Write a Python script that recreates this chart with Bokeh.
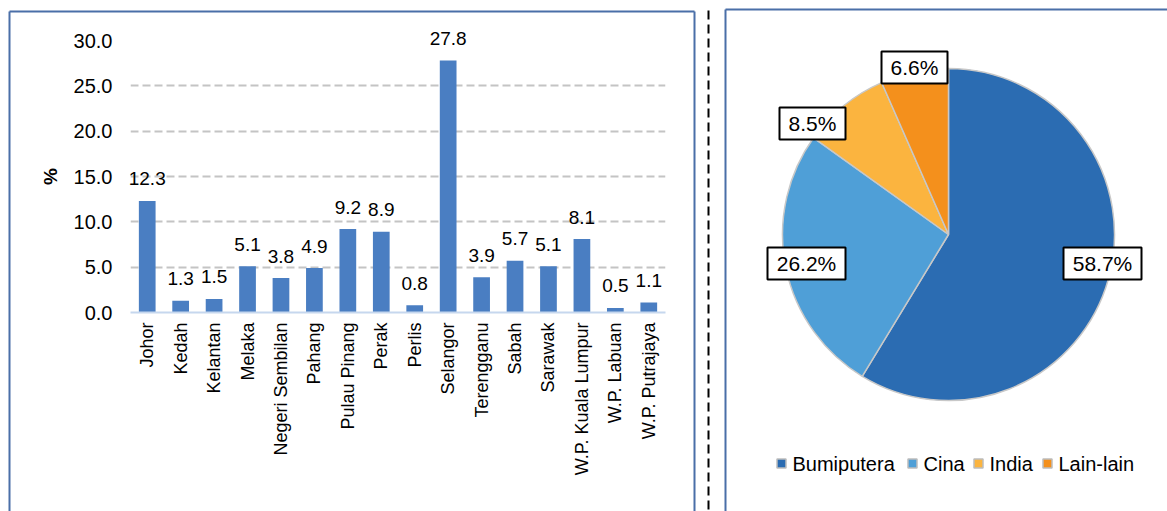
import math
from bokeh.plotting import figure
from bokeh.models import ColumnDataSource, Range1d, FixedTicker, PrintfTickFormatter
from bokeh.core.properties import value
from bokeh.embed import file_html
from bokeh.resources import INLINE

# ---------------- data ----------------
states = ["Johor", "Kedah", "Kelantan", "Melaka", "Negeri Sembilan", "Pahang",
          "Pulau Pinang", "Perak", "Perlis", "Selangor", "Terengganu", "Sabah",
          "Sarawak", "W.P. Kuala Lumpur", "W.P. Labuan", "W.P. Putrajaya"]
state_pct = [12.3, 1.3, 1.5, 5.1, 3.8, 4.9, 9.2, 8.9, 0.8, 27.8, 3.9, 5.7,
             5.1, 8.1, 0.5, 1.1]
y_ticks = [0, 5, 10, 15, 20, 25, 30]
y_axis_title = "%"

groups = ["Bumiputera", "Cina", "India", "Lain-lain"]
group_pct = [58.7, 26.2, 8.5, 6.6]

# ---------------- layout / style ----------------
W, H = 1167, 511
FONT = value("Liberation Sans")
FL, FR, FT, FB = 130, 665, 40, 312      # bar-chart frame, page pixels
BAR_COLOR = "#4a7ec2"
PANEL_COLOR = "#4a6fa8"
PIE_COLORS = ["#2b6cb2", "#4f9fd7", "#fbb43f", "#f4901c"]
PIE_CX, PIE_CY, PIE_R = 948, 234, 166
PIE_LABEL_POS = [(1102, 263), (806, 263), (812, 123), (914, 67)]
LEGEND_SQ_X = [781, 912, 978, 1047]
LEGEND_Y = 463


def py(y):
    """page y (down) -> pixel-range coordinate (up)"""
    return H - y


n = len(states)
xpos = [i + 0.5 for i in range(n)]   # category slots on the axis

p = figure(width=W, height=H, x_range=Range1d(0, n), y_range=Range1d(0, 30),
           output_backend="svg", toolbar_location=None,
           min_border_left=FL, min_border_right=W - FR,
           min_border_top=FT, min_border_bottom=H - FB)
p.extra_x_ranges = {"px": Range1d(FL, FR)}
p.extra_y_ranges = {"px": Range1d(py(FB), py(FT))}
p.outline_line_color = None
p.background_fill_color = "white"
p.border_fill_color = "white"

# bars
src = ColumnDataSource(dict(x=xpos, y=state_pct,
                            lab=["%.1f" % v for v in state_pct]))
p.vbar(x="x", top="y", width=0.5, source=src, fill_color=BAR_COLOR, line_color=None)
p.text(x="x", y="y", text="lab", source=src, y_offset=-22, level="overlay",
       text_align="center", text_baseline="alphabetic",
       text_font=FONT, text_font_size="19px", text_color="#000000")

# axes
p.xgrid.grid_line_color = None
p.ygrid.grid_line_color = "#c4c4c4"
p.ygrid.grid_line_width = 2
p.ygrid.grid_line_dash = "8 4"
p.yaxis.ticker = FixedTicker(ticks=y_ticks)
p.yaxis.formatter = PrintfTickFormatter(format="%.1f")
p.yaxis.axis_line_color = None
p.yaxis.major_tick_line_color = None
p.yaxis.minor_tick_line_color = None
p.yaxis.major_tick_out = 0
p.yaxis.major_tick_in = 0
p.yaxis.major_label_standoff = 18
p.yaxis.major_label_text_font = "Liberation Sans"
p.yaxis.major_label_text_font_size = "20px"
p.yaxis.major_label_text_color = "#000000"
p.yaxis.axis_label = y_axis_title
p.yaxis.axis_label_text_font = "Liberation Sans"
p.yaxis.axis_label_text_font_size = "19px"
p.yaxis.axis_label_text_font_style = "bold"
p.yaxis.axis_label_text_color = "#000000"
p.yaxis.axis_label_standoff = 10

p.xaxis.ticker = FixedTicker(ticks=xpos)
p.xaxis.major_label_overrides = {x: s for x, s in zip(xpos, states)}
p.xaxis.axis_line_color = "#c6d7ee"
p.xaxis.axis_line_width = 2
p.xaxis.major_tick_line_color = None
p.xaxis.minor_tick_line_color = None
p.xaxis.major_tick_out = 0
p.xaxis.major_tick_in = 0
p.xaxis.major_label_orientation = math.pi / 2
p.xaxis.major_label_standoff = 10
p.xaxis.major_label_text_font = "Liberation Sans"
p.xaxis.major_label_text_font_size = "18px"
p.xaxis.major_label_text_color = "#000000"

PX = dict(x_range_name="px", y_range_name="px", level="overlay")

# panel borders and separator
p.segment(x0=[9, 9, 694, 725, 725], y0=[py(11), py(11), py(11), py(9), py(9)],
          x1=[9, 694, 694, 725, 1175], y1=[py(520), py(11), py(520), py(520), py(9)],
          line_color=PANEL_COLOR, line_width=2, **PX)
p.segment(x0=[708], y0=[py(10)], x1=[708], y1=[py(520)], line_color="#000000",
          line_width=2, line_dash="9 5", **PX)

# pie
starts, ends = [], []
cum = 0.0
for v in group_pct:
    a0 = 90 - cum * 3.6
    cum += v
    a1 = 90 - cum * 3.6
    starts.append(math.radians(a0))
    ends.append(math.radians(a1))
pie_src = ColumnDataSource(dict(start=starts, end=ends, color=PIE_COLORS))
p.wedge(x=PIE_CX, y=py(PIE_CY), radius=PIE_R, start_angle="start", end_angle="end",
        direction="clock", fill_color="color", line_color="#c8c8c8", line_width=1.5,
        source=pie_src, **PX)

labels = ["%.1f%%" % v for v in group_pct]
lab_src = ColumnDataSource(dict(
    x=[q[0] for q in PIE_LABEL_POS], y=[py(q[1]) for q in PIE_LABEL_POS],
    w=[12 * len(t) + 18 for t in labels], text=labels))
p.rect(x="x", y="y", width="w", height=32, source=lab_src, fill_color="white",
       line_color="#000000", line_width=2, **PX)
p.text(x="x", y="y", text="text", source=lab_src, text_align="center",
       text_baseline="middle", text_font=FONT, text_font_size="21px",
       text_color="#000000", **PX)

# legend
leg_src = ColumnDataSource(dict(x=LEGEND_SQ_X, y=[py(LEGEND_Y)] * 4,
                                tx=[x + 11 for x in LEGEND_SQ_X],
                                color=PIE_COLORS, text=groups))
p.rect(x="x", y="y", width=9, height=9, source=leg_src, fill_color="color",
       line_color="#bdbdbd", line_width=1.5, **PX)
p.text(x="tx", y="y", text="text", source=leg_src, text_align="left",
       text_baseline="middle", text_font=FONT, text_font_size="20px",
       text_color="#000000", **PX)

open("out.html", "w").write(file_html(p, INLINE))
